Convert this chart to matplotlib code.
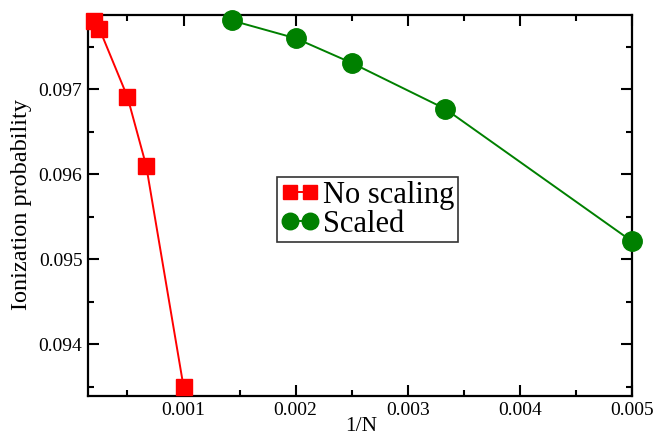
import matplotlib
matplotlib.use('Agg')
import matplotlib.pyplot as plt
from matplotlib.ticker import MultipleLocator

# data
inv_n_noscale = [0.0002, 0.00025, 0.0005, 0.000667, 0.001]
prob_noscale = [0.09780, 0.09771, 0.09691, 0.09610, 0.09350]
inv_n_scaled = [0.001429, 0.002, 0.0025, 0.003333, 0.005]
prob_scaled = [0.09781, 0.09760, 0.09731, 0.09677, 0.09521]

x_ticks = [0.001, 0.002, 0.003, 0.004, 0.005]
x_labels = ['0.001', '0.002', '0.003', '0.004', '0.005']
y_ticks = [0.094, 0.095, 0.096, 0.097]
y_labels = ['0.094', '0.095', '0.096', '0.097']

plt.rcParams['font.family'] = ['Liberation Serif', 'DejaVu Serif']

fig = plt.figure(figsize=(6.54, 4.37), dpi=100)
ax = fig.add_axes([88 / 654, 1 - 396 / 437, (632 - 88) / 654, (396 - 15) / 437])

ax.plot(inv_n_noscale, prob_noscale, color='#ff0000', lw=1.4, marker='s',
        ms=12, mec='#ff0000', mfc='#ff0000', label='No scaling', clip_on=False, zorder=3)
ax.plot(inv_n_scaled, prob_scaled, color='#008000', lw=1.4, marker='o',
        ms=14, mec='#008000', mfc='#008000', label='Scaled', clip_on=False, zorder=3)

ax.set_xlim(0.000148, 0.005)
ax.set_ylim(0.09339, 0.097874)
ax.xaxis.set_minor_locator(MultipleLocator(0.0005))
ax.yaxis.set_minor_locator(MultipleLocator(0.0005))
ax.set_xticks(x_ticks)
ax.set_xticklabels(x_labels)
ax.set_yticks(y_ticks)
ax.set_yticklabels(y_labels)

ax.tick_params(which='both', direction='in', top=True, right=True, labelsize=14, width=1.5, pad=4)
ax.tick_params(which='major', length=8)
ax.tick_params(which='minor', length=4)
for s in ax.spines.values():
    s.set_linewidth(1.6)

ax.set_xlabel('1/N', fontsize=15.5, va='top')
ax.xaxis.set_label_coords((361 - 88) / 544, -21 / 381)
ax.set_ylabel('Ionization probability', fontsize=17.5)
ax.yaxis.set_label_coords(-56 / 544, (396 - 205) / 381)

leg = ax.legend(loc='upper left', bbox_to_anchor=((277 - 88) / 544, 1 - (177 - 15) / 381),
                fontsize=22, numpoints=2, handlelength=1.25, handletextpad=0.15,
                borderpad=0.12, labelspacing=0.0, borderaxespad=0, fancybox=False,
                frameon=True, markerscale=0.85)
leg.get_frame().set_edgecolor('black')
leg.get_frame().set_linewidth(1.2)

fig.savefig('out.png', dpi=100)
